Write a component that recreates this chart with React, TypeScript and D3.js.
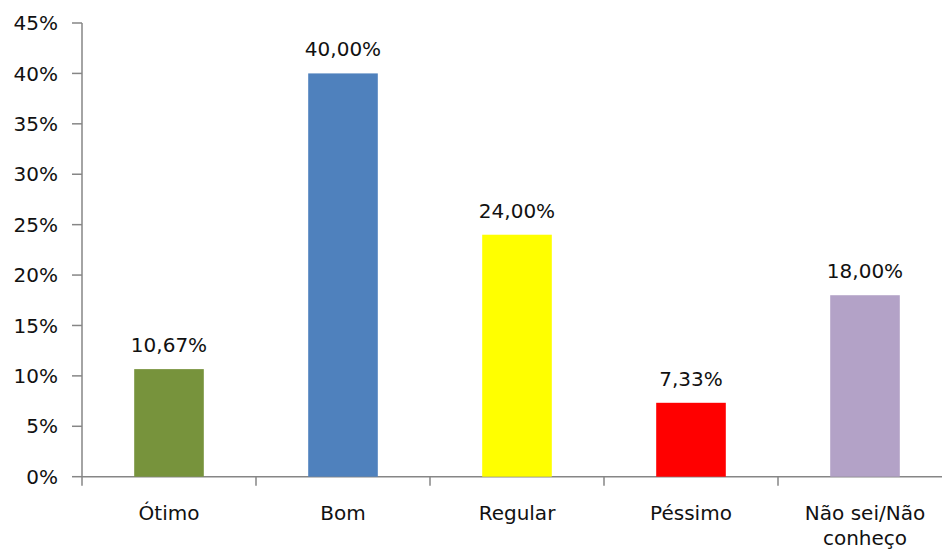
import React from 'react'
import * as d3 from 'd3'

const categories = ['Ótimo', 'Bom', 'Regular', 'Péssimo', 'Não sei/Não conheço']
const values = [10.67, 40.0, 24.0, 7.33, 18.0]
const colors = ['#77933C', '#4F81BD', '#FFFF00', '#FF0000', '#B3A2C7']
const yTicks = [0, 5, 10, 15, 20, 25, 30, 35, 40, 45]
// wrapped category label lines
const labelLines = [['Ótimo'], ['Bom'], ['Regular'], ['Péssimo'], ['Não sei/Não', 'conheço']]

const width = 942
const height = 554
const left = 82
const top = 23
const bottom = 476.7
const font = "'DejaVu Sans', Tahoma, Verdana, sans-serif"
const axisColor = '#868686'

export default function App() {
	const x = d3.scaleBand<string>()
		.domain(categories)
		.range([left, left + 174 * categories.length])
		.paddingInner(0.6)
		.paddingOuter(0.3)
	const y = d3.scaleLinear().domain([0, 45]).range([bottom, top])
	const fmt = (v: number) => v.toFixed(2).replace('.', ',') + '%'
	const step = x.step()

	return (
		<svg width={width} height={height} style={{position: 'absolute', left: 0, top: 0}}
			fontFamily={font}>
			<rect x={0} y={0} width={width} height={height} fill="#fff" />
			{/* y axis */}
			<line x1={left} x2={left} y1={y(45)} y2={bottom} stroke={axisColor} strokeWidth={1.5} />
			{yTicks.map(t => (
				<g key={`yt-${t}`}>
					<line x1={left - 10} x2={left} y1={y(t)} y2={y(t)} stroke={axisColor} strokeWidth={1.5} />
					<text x={left - 24} y={y(t)} dy="0.36em" textAnchor="end" fontSize={20} fill="#111">
						{t}%
					</text>
				</g>
			))}
			{/* x axis */}
			<line x1={left} x2={width} y1={bottom} y2={bottom} stroke={axisColor} strokeWidth={1.5} />
			{categories.map((c, i) => (
				<line key={`xt-${i}`} x1={left + step * i} x2={left + step * i} y1={bottom} y2={bottom + 9}
					stroke={axisColor} strokeWidth={1.5} />
			))}
			{/* bars */}
			{categories.map((c, i) => (
				<g key={`bar-${i}`}>
					<rect x={x(c)} y={y(values[i])} width={x.bandwidth()} height={bottom - y(values[i])}
						fill={colors[i]} />
					<text x={(x(c) || 0) + x.bandwidth() / 2} y={y(values[i]) - 17} textAnchor="middle"
						fontSize={20} fill="#111">
						{fmt(values[i])}
					</text>
				</g>
			))}
			{/* category labels */}
			{categories.map((c, i) => (
				<text key={`cl-${i}`} x={(x(c) || 0) + x.bandwidth() / 2} y={520} textAnchor="middle"
					fontSize={20} fill="#111">
					{labelLines[i].map((l, j) => (
						<tspan key={j} x={(x(c) || 0) + x.bandwidth() / 2} dy={j === 0 ? 0 : 25}>{l}</tspan>
					))}
				</text>
			))}
		</svg>
	)
}
